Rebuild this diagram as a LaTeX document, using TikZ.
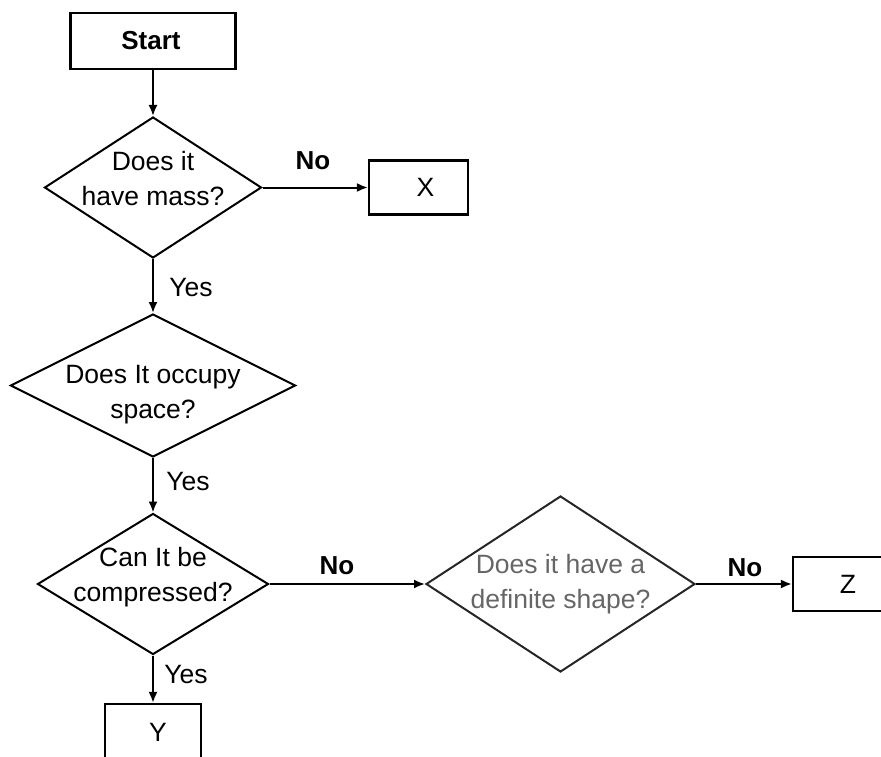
\documentclass[tikz,border=0pt]{standalone}
\usepackage{fontspec}
\setmainfont{Liberation Sans}
\usetikzlibrary{shapes.geometric,arrows.meta}
\newcommand\dtext[2][0pt]{\smash{\makebox[0pt]{\raisebox{#1}{\begin{tabular}{@{}c@{}}#2\end{tabular}}}}}
\begin{document}
\begin{tikzpicture}[x=1pt,y=-1pt,
  font=\fontsize{26.5}{35}\selectfont,
  box/.style={draw, line width=2.2pt, inner sep=0pt},
  dec/.style={diamond, draw, line width=2pt, inner sep=0pt},
  arr/.style={line width=2pt, -{Latex[length=11pt,width=9pt]}},
  lbl/.style={inner sep=0pt},
  bold/.style={lbl, font=\fontsize{26}{35}\selectfont\bfseries}]
\useasboundingbox (0,0) rectangle (881,757);
\clip (0,0) rectangle (881,757);
\fill[white] (0,0) rectangle (881,757);

\node[box, minimum width=165pt, minimum height=56pt, font=\fontsize{26}{35}\selectfont\bfseries] (start) at (153,41) {\hspace{-4pt}Start};
\node[dec, minimum width=217pt, minimum height=141pt] (d1) at (153,187.5) {\dtext{Does it\\have mass?}};
\node[box, minimum width=99pt, minimum height=54pt] (x) at (418.5,187.5) {\hspace{14pt}X};
\node[dec, minimum width=285pt, minimum height=143pt] (d2) at (153,385.5) {\dtext[-15pt]{Does It occupy\\space?}};
\node[dec, minimum width=231pt, minimum height=141pt] (d3) at (153,584) {\dtext[1pt]{Can It be\\compressed?}};
\node[dec, draw=black!85, minimum width=269pt, minimum height=176pt, text=black!60] (d4) at (560.5,584) {\dtext[-6pt]{Does it have a\\definite shape?}};
\node[box, minimum width=96pt, minimum height=56pt] (y) at (153,732) {\hspace{10pt}Y};
\node[box, minimum width=96pt, minimum height=54pt] (z) at (841,584) {\hspace{14pt}Z};

\draw[arr] (start) -- (d1.north);
\draw[arr] (d1.east) -- (x.west);
\draw[arr] (d1.south) -- (d2.north);
\draw[arr] (d2.south) -- (d3.north);
\draw[arr] (d3.south) -- (y.north);
\draw[arr] (d3.east) -- (d4.west);
\draw[arr] (d4.east) -- (z.west);

\node[bold] (no1) at (313,161) {No};
\node[lbl] (yes1) at (191,288) {Yes};
\node[lbl] (yes2) at (188,482) {Yes};
\node[bold] (no2) at (337,566) {No};
\node[bold] (no3) at (745,568) {No};
\node[lbl] (yes3) at (186,675) {Yes};
\end{tikzpicture}
\end{document}
